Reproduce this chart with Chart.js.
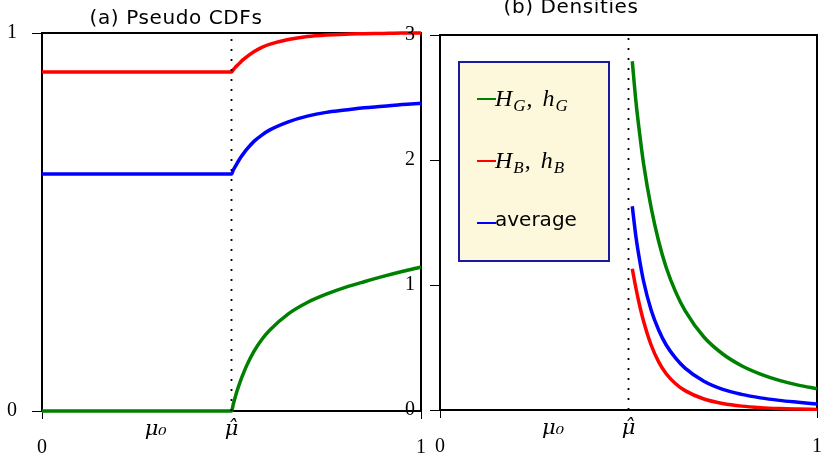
<!DOCTYPE html>
<html>
<head>
<meta charset="utf-8">
<script src="https://cdn.jsdelivr.net/npm/chart.js@4"></script>
<style>
  body { margin: 0; background: #fff; width: 823px; height: 455px; overflow: hidden; position: relative; }
  canvas { position: absolute; top: 0; }
  #cdf { left: 0; }
  #dens { left: 390px; }
</style>
</head>
<body>
<canvas id="cdf" width="430" height="455"></canvas>
<canvas id="dens" width="433" height="455"></canvas>
<script>
// values
const mu0 = 0.3;
const muHat = 0.5;
const markValues = [0, mu0, muHat, 1];
const markLabels = [["", "0"], "μ₀", "μ̂", ["", "1"]];

// (a) pseudo CDFs
const xCdf = [0, 0.5, 0.505, 0.51, 0.515, 0.52, 0.525, 0.53, 0.54, 0.56, 0.58, 0.6, 0.65, 0.7, 0.75, 0.8, 0.85, 0.9, 0.95, 1];
const cdfGood = [0, 0, 0.019, 0.037, 0.054, 0.069, 0.083, 0.096, 0.12, 0.159, 0.189, 0.213, 0.257, 0.287, 0.309, 0.327, 0.342, 0.356, 0.369, 0.381];
const cdfBad = [0.897, 0.897, 0.903, 0.909, 0.914, 0.919, 0.924, 0.929, 0.937, 0.951, 0.962, 0.97, 0.983, 0.991, 0.995, 0.997, 0.998, 0.999, 1, 1];
const cdfAvg = [0.627, 0.627, 0.638, 0.647, 0.656, 0.664, 0.672, 0.679, 0.692, 0.714, 0.73, 0.743, 0.765, 0.78, 0.79, 0.796, 0.802, 0.806, 0.811, 0.814];

// (b) densities
const xDens = [0.51, 0.52, 0.53, 0.54, 0.56, 0.58, 0.6, 0.625, 0.65, 0.7, 0.75, 0.8, 0.85, 0.9, 0.95, 1];
const densGood = [2.79, 2.46, 2.2, 1.97, 1.62, 1.35, 1.14, 0.945, 0.795, 0.584, 0.448, 0.354, 0.287, 0.237, 0.199, 0.17];
const densBad = [1.13, 0.97, 0.83, 0.71, 0.52, 0.385, 0.29, 0.21, 0.155, 0.088, 0.052, 0.031, 0.019, 0.012, 0.008, 0.005];
const densAvg = [1.63, 1.38, 1.19, 1.03, 0.8, 0.64, 0.52, 0.415, 0.335, 0.23, 0.165, 0.125, 0.097, 0.077, 0.062, 0.048];

const labels = ["H_G, h_G", "H_B, h_B", "average"];
const colors = ["#008000", "#ff0000", "#0000ff"];

const pts = (xs, ys) => xs.map((x, i) => ({ x: x, y: ys[i] }));

function curve(label, color, data) {
  return {
    label: label, data: data, borderColor: color, borderWidth: 3.5,
    pointRadius: 0, cubicInterpolationMode: "monotone", clip: false
  };
}

function hatLine(top) {
  return {
    label: "", data: [{ x: muHat, y: 0 }, { x: muHat, y: top }],
    borderColor: "#000", borderWidth: 1.8, borderDash: [2, 8],
    pointRadius: 0, clip: false
  };
}

const serif = { family: "Liberation Serif", size: 20, lineHeight: 0.92 };
const mathFont = { family: "DejaVu Serif", size: 21, style: "italic", lineHeight: 0.88 };

const framePlugin = {
  id: "frame",
  beforeDatasetsDraw(chart) {
    const { ctx, chartArea: a } = chart;
    ctx.save();
    ctx.strokeStyle = "#000";
    ctx.lineWidth = 2;
    ctx.strokeRect(a.left, a.top, a.right - a.left, a.bottom - a.top);
    ctx.restore();
  }
};

const titlePlugin = {
  id: "panelTitle",
  afterDraw(chart, args, opts) {
    const { ctx, chartArea } = chart;
    ctx.save();
    ctx.font = '20px "DejaVu Sans"';
    ctx.letterSpacing = "0.6px";
    ctx.fillStyle = "#000";
    ctx.textAlign = "center";
    ctx.textBaseline = "alphabetic";
    ctx.fillText(opts.text, chartArea.left + opts.dx, opts.y);
    ctx.restore();
  }
};

// draws "H_G, h_G" style labels with real subscripts
function drawLabel(ctx, text, x, y) {
  if (text.indexOf("_") < 0) {
    ctx.font = '20px "DejaVu Sans"';
    ctx.fillText(text, x, y - 4);
    return;
  }
  const parts = text.split(", ");
  parts.forEach((p, i) => {
    const [base, sub] = p.split("_");
    ctx.font = 'italic 24px "Liberation Serif"';
    ctx.fillText(base, x, y);
    x += ctx.measureText(base).width + 1;
    ctx.font = 'italic 17px "Liberation Serif"';
    ctx.fillText(sub, x, y + 5);
    x += ctx.measureText(sub).width;
    if (i < parts.length - 1) {
      ctx.font = '24px "Liberation Serif"';
      ctx.fillText(",", x + 1, y);
      x += ctx.measureText(", ").width + 5;
    }
  });
}

const legendPlugin = {
  id: "boxLegend",
  afterDraw(chart, args, opts) {
    const { ctx, chartArea } = chart;
    const x0 = chartArea.left + opts.dx, y0 = chartArea.top + opts.dy;
    ctx.save();
    ctx.fillStyle = "#fdf8dc";
    ctx.fillRect(x0, y0, opts.w, opts.h);
    ctx.strokeStyle = "#1a1a9c";
    ctx.lineWidth = 2;
    ctx.strokeRect(x0, y0, opts.w, opts.h);
    const items = chart.data.datasets.filter(d => d.label);
    items.forEach((d, i) => {
      const ly = y0 + 37 + i * 62;
      ctx.strokeStyle = d.borderColor;
      ctx.lineWidth = 2;
      ctx.beginPath();
      ctx.moveTo(x0 + 18, ly);
      ctx.lineTo(x0 + 37, ly);
      ctx.stroke();
      ctx.fillStyle = "#000";
      ctx.textBaseline = "alphabetic";
      ctx.textAlign = "left";
      drawLabel(ctx, d.label, x0 + 36, ly + 7);
    });
    ctx.restore();
  }
};

function makeScales(yMax, yWidth, xHeight) {
  return {
    x: {
      type: "linear", min: 0, max: 1, position: "bottom",
      afterBuildTicks: s => { s.ticks = markValues.map(v => ({ value: v })); },
      afterFit: s => { s.height = xHeight; },
      border: { display: false },
      grid: {
        drawOnChartArea: false, tickLength: 8, lineWidth: 1,
        color: c => (c.tick && (c.tick.value === 0 || c.tick.value === 1)) ? "#000" : "rgba(0,0,0,0)"
      },
      ticks: {
        autoSkip: false, maxRotation: 0, padding: 1, color: "#000",
        font: c => (c.index === 1 || c.index === 2) ? mathFont : serif,
        callback: (v, i) => markLabels[i]
      }
    },
    y: {
      min: 0, max: yMax,
      afterFit: s => { s.width = yWidth; },
      border: { display: false },
      grid: { drawOnChartArea: false, tickLength: 10, color: "#000", lineWidth: 1 },
      ticks: { stepSize: 1, padding: 15, color: "#000", font: { family: "Liberation Serif", size: 20 } }
    }
  };
}

new Chart(document.getElementById("cdf").getContext("2d"), {
  type: "line",
  data: {
    datasets: [
      hatLine(1),
      curve(labels[0], colors[0], pts(xCdf, cdfGood)),
      curve(labels[1], colors[1], pts(xCdf, cdfBad)),
      curve(labels[2], colors[2], pts(xCdf, cdfAvg))
    ]
  },
  options: {
    responsive: false, animation: false,
    layout: { padding: { top: 33, right: 9, left: 0, bottom: 0 } },
    scales: makeScales(1, 42, 44),
    plugins: {
      legend: { display: false }, tooltip: { enabled: false },
      panelTitle: { text: "(a) Pseudo CDFs", dx: 134, y: 24 }
    }
  },
  plugins: [framePlugin, titlePlugin]
});

new Chart(document.getElementById("dens").getContext("2d"), {
  type: "line",
  data: {
    datasets: [
      hatLine(3),
      curve(labels[0], colors[0], pts(xDens, densGood)),
      curve(labels[1], colors[1], pts(xDens, densBad)),
      curve(labels[2], colors[2], pts(xDens, densAvg))
    ]
  },
  options: {
    responsive: false, animation: false,
    layout: { padding: { top: 35, right: 5, left: 0, bottom: 0 } },
    scales: makeScales(3, 50, 45),
    plugins: {
      legend: { display: false }, tooltip: { enabled: false },
      panelTitle: { text: "(b) Densities", dx: 131, y: 13 },
      boxLegend: { dx: 19, dy: 27, w: 150, h: 199 }
    }
  },
  plugins: [framePlugin, titlePlugin, legendPlugin]
});
</script>
</body>
</html>
